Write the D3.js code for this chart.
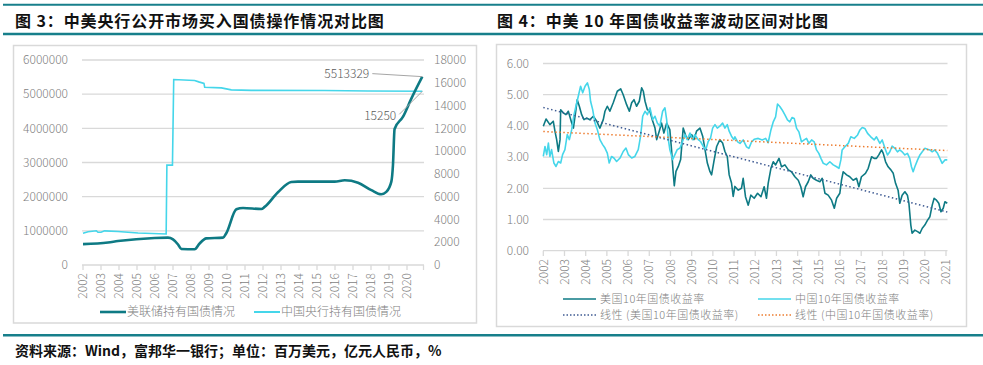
<!DOCTYPE html>
<html>
<head>
<meta charset="utf-8">
<script src="https://cdn.jsdelivr.net/npm/d3@7"></script>
<style>
  body { margin: 0; background: #fff; }
  svg { display: block; }
  text { font-family: "Noto Sans CJK SC", "Noto Sans", sans-serif; }
</style>
</head>
<body>
<script>
// ---- 图3 数据 ----
var fedYears = [2002.00, 2003.39, 2003.94, 2005.98, 2006.72, 2007.00, 2007.28, 2007.46, 2008.20, 2008.48,
                2008.85, 2009.78, 2009.96, 2010.52, 2010.89, 2011.91, 2012.09, 2012.83, 2013.57, 2013.94,
                2015.98, 2016.54, 2017.28, 2018.02, 2018.57, 2018.85, 2019.13, 2019.22, 2019.31, 2019.78,
                2020.24, 2020.85];
var fedValues = [610000, 660000, 700000, 790000, 800000, 750000, 600000, 470000, 460000, 630000,
                 780000, 800000, 930000, 1630000, 1670000, 1640000, 1700000, 2130000, 2430000, 2440000,
                 2440000, 2480000, 2410000, 2190000, 2070000, 2140000, 2440000, 2920000, 3980000, 4340000,
                 4870000, 5513329];
var pbocYears = [2002.00, 2002.28, 2002.74, 2002.83, 2003.00, 2003.20, 2003.94, 2005.06, 2006.62, 2006.66,
                 2006.97, 2007.04, 2008.20, 2008.43, 2008.72, 2008.76, 2009.69, 2010.24, 2011.35, 2015.43,
                 2017.83, 2020.85];
var pbocValues = [2780, 2920, 3010, 2870, 2870, 3000, 2940, 2810, 2720, 8770,
                  8770, 16290, 16200, 16080, 15940, 15610, 15550, 15380, 15330, 15320,
                  15280, 15250];
var leftTicks = [0, 1000000, 2000000, 3000000, 4000000, 5000000, 6000000];
var rightTicks = [0, 2000, 4000, 6000, 8000, 10000, 12000, 14000, 16000, 18000];
var yearLabels3 = d3.range(2002, 2021);

// ---- 图4 数据 ----
var usYears = [2002.00, 2002.13, 2002.31, 2002.47, 2002.55, 2002.63, 2002.71, 2002.79, 2002.82, 2002.94,
  2003.07, 2003.18, 2003.34, 2003.42, 2003.54, 2003.60, 2003.70, 2003.81, 2003.92, 2004.04,
  2004.20, 2004.36, 2004.52, 2004.67, 2004.83, 2004.91, 2005.02, 2005.14, 2005.30, 2005.49,
  2005.65, 2005.77, 2005.93, 2006.06, 2006.17, 2006.28, 2006.40, 2006.53, 2006.64, 2006.72,
  2006.80, 2006.91, 2007.03, 2007.14, 2007.27, 2007.35, 2007.47, 2007.58, 2007.69, 2007.82,
  2007.97, 2008.05, 2008.13, 2008.18, 2008.26, 2008.37, 2008.48, 2008.60, 2008.73, 2008.84,
  2009.00, 2009.11, 2009.23, 2009.39, 2009.52, 2009.63, 2009.74, 2009.86, 2009.94, 2010.05,
  2010.18, 2010.33, 2010.46, 2010.57, 2010.68, 2010.77, 2010.88, 2010.96, 2011.04, 2011.20,
  2011.35, 2011.43, 2011.54, 2011.67, 2011.79, 2011.95, 2012.11, 2012.27, 2012.42, 2012.53,
  2012.61, 2012.74, 2012.85, 2012.96, 2013.12, 2013.24, 2013.40, 2013.56, 2013.71, 2013.87,
  2014.03, 2014.15, 2014.26, 2014.37, 2014.50, 2014.62, 2014.73, 2014.89, 2015.05, 2015.16,
  2015.29, 2015.44, 2015.60, 2015.73, 2015.84, 2015.99, 2016.07, 2016.15, 2016.31, 2016.46,
  2016.62, 2016.78, 2016.89, 2017.01, 2017.20, 2017.33, 2017.49, 2017.61, 2017.72, 2017.83,
  2017.96, 2018.04, 2018.15, 2018.27, 2018.40, 2018.51, 2018.62, 2018.74, 2018.82, 2018.93,
  2019.06, 2019.18, 2019.25, 2019.34, 2019.40, 2019.53, 2019.66, 2019.77, 2019.88, 2020.00,
  2020.13, 2020.24, 2020.35, 2020.44, 2020.55, 2020.66, 2020.76, 2020.87, 2020.95, 2021.06];
var usValues = [3.99, 4.22, 4.04, 4.15, 3.83, 3.56, 3.18, 3.56, 4.52, 4.42,
  4.36, 4.47, 4.09, 3.93, 4.52, 4.84, 4.63, 4.36, 4.20, 4.25,
  4.20, 4.31, 4.15, 3.93, 4.20, 4.47, 4.63, 4.47, 4.74, 5.11,
  5.19, 5.00, 4.68, 4.47, 4.74, 4.84, 4.63, 4.79, 5.22, 5.11,
  4.79, 4.52, 4.47, 4.20, 3.93, 3.56, 3.83, 4.09, 3.77, 4.09,
  3.88, 3.24, 2.49, 2.08, 2.54, 2.70, 2.92, 3.93, 3.67, 3.56,
  3.72, 3.56, 3.83, 3.93, 3.67, 3.24, 2.81, 2.54, 2.43, 2.86,
  3.34, 3.56, 3.45, 3.18, 3.02, 2.43, 2.17, 1.74, 2.06, 1.94,
  2.00, 2.32, 1.73, 1.46, 1.78, 1.68, 1.84, 1.73, 2.05, 1.68,
  2.16, 2.64, 2.85, 2.75, 2.96, 2.69, 2.75, 2.59, 2.53, 2.37,
  2.26, 2.05, 1.73, 2.05, 2.21, 2.43, 2.32, 2.26, 2.21, 2.32,
  1.84, 1.78, 1.62, 1.36, 1.68, 1.84, 2.26, 2.53, 2.43, 2.37,
  2.26, 2.32, 2.05, 2.37, 2.48, 2.64, 3.01, 2.96, 2.96, 3.07,
  3.23, 3.12, 2.85, 2.69, 2.59, 2.48, 2.16, 1.94, 1.52, 1.78,
  1.89, 1.78, 1.52, 0.82, 0.56, 0.66, 0.61, 0.56, 0.72, 0.82,
  0.98, 1.09, 1.46, 1.68, 1.62, 1.52, 1.25, 1.36, 1.57, 1.52];
var cnYears = [2002.00, 2002.08, 2002.16, 2002.24, 2002.31, 2002.39, 2002.50, 2002.60, 2002.71, 2002.82,
  2002.91, 2003.02, 2003.13, 2003.23, 2003.34, 2003.45, 2003.54, 2003.65, 2003.76, 2003.86,
  2003.97, 2004.08, 2004.17, 2004.23, 2004.33, 2004.44, 2004.55, 2004.67, 2004.80, 2004.91,
  2005.02, 2005.11, 2005.22, 2005.33, 2005.46, 2005.62, 2005.77, 2005.90, 2006.01, 2006.17,
  2006.32, 2006.48, 2006.59, 2006.69, 2006.80, 2006.91, 2007.03, 2007.16, 2007.27, 2007.38,
  2007.50, 2007.63, 2007.74, 2007.82, 2007.90, 2007.97, 2008.10, 2008.21, 2008.32, 2008.45,
  2008.57, 2008.68, 2008.79, 2008.92, 2009.04, 2009.15, 2009.31, 2009.42, 2009.55, 2009.67,
  2009.78, 2009.89, 2009.99, 2010.10, 2010.21, 2010.33, 2010.46, 2010.57, 2010.68, 2010.77,
  2010.88, 2010.99, 2011.04, 2011.17, 2011.28, 2011.43, 2011.59, 2011.70, 2011.83, 2011.95,
  2012.14, 2012.33, 2012.49, 2012.61, 2012.74, 2012.85, 2012.96, 2013.05, 2013.16, 2013.27,
  2013.40, 2013.52, 2013.63, 2013.74, 2013.84, 2013.95, 2014.06, 2014.18, 2014.31, 2014.42,
  2014.53, 2014.66, 2014.78, 2014.89, 2015.00, 2015.10, 2015.21, 2015.36, 2015.52, 2015.68,
  2015.84, 2015.95, 2016.04, 2016.10, 2016.23, 2016.39, 2016.51, 2016.67, 2016.83, 2016.94,
  2017.05, 2017.17, 2017.30, 2017.45, 2017.61, 2017.72, 2017.88, 2017.99, 2018.12, 2018.24,
  2018.35, 2018.46, 2018.59, 2018.71, 2018.82, 2018.93, 2019.06, 2019.18, 2019.29, 2019.37,
  2019.45, 2019.53, 2019.66, 2019.77, 2019.88, 2020.00, 2020.13, 2020.24, 2020.35, 2020.47,
  2020.60, 2020.71, 2020.82, 2020.95, 2021.06];
var cnValues = [3.02, 3.34, 3.08, 3.45, 3.02, 3.24, 2.81, 2.70, 2.86, 2.81,
  3.08, 3.24, 3.72, 3.56, 3.88, 4.36, 4.63, 4.95, 5.27, 5.06,
  5.27, 5.38, 5.17, 4.79, 4.52, 4.09, 3.88, 3.56, 3.40, 3.29,
  3.13, 2.81, 3.02, 2.97, 2.86, 2.97, 3.18, 3.29, 3.08, 2.97,
  3.02, 3.24, 3.67, 4.31, 4.47, 4.36, 4.58, 4.20, 4.31, 4.09,
  3.99, 4.47, 4.58, 4.20, 3.56, 3.24, 2.92, 3.08, 3.24, 3.29,
  3.50, 3.72, 3.56, 3.77, 3.56, 3.72, 3.56, 3.50, 3.34, 3.24,
  3.50, 3.61, 3.93, 4.04, 3.93, 3.99, 4.09, 3.93, 4.04, 3.83,
  3.67, 3.56, 3.65, 3.49, 3.44, 3.55, 3.33, 3.28, 3.49, 3.57,
  3.60, 3.55, 3.60, 3.46, 3.87, 4.13, 4.29, 4.70, 4.62, 4.51,
  4.35, 4.19, 4.13, 4.27, 4.24, 3.92, 3.81, 3.49, 3.55, 3.60,
  3.44, 3.55, 3.49, 3.23, 3.12, 2.96, 2.80, 2.75, 2.85, 2.75,
  2.69, 2.64, 2.91, 3.23, 3.33, 3.44, 3.65, 3.60, 3.71, 3.87,
  3.95, 3.92, 3.76, 3.65, 3.55, 3.65, 3.44, 3.55, 3.28, 3.07,
  3.17, 3.35, 3.28, 3.17, 3.23, 3.17, 3.07, 3.12, 2.96, 2.69,
  2.53, 2.69, 2.91, 3.07, 3.17, 3.28, 3.25, 3.23, 3.17, 3.23,
  3.12, 2.96, 2.80, 2.91, 2.91];
// 线性趋势线（读图端点）
var trendYears = [2002, 2021.06];
var usTrend = [4.59, 1.24];
var cnTrend = [3.82, 3.21];
var yieldTicks = [0, 1, 2, 3, 4, 5, 6];
var yearLabels4 = d3.range(2002, 2022);

var teal = "#0e7a84", cyan = "#45d6ea", gridC = "#d9d9d9", labelC = "#7f7f7f";

var svg = d3.select("body").append("svg").attr("width", 983).attr("height", 365);

// 标题栏与分隔线
svg.append("line").attr("x1", 3).attr("x2", 983).attr("y1", 4.8).attr("y2", 4.8)
   .attr("stroke", "#177f8b").attr("stroke-width", 2);
svg.append("line").attr("x1", 3).attr("x2", 983).attr("y1", 34).attr("y2", 34)
   .attr("stroke", "#177f8b").attr("stroke-width", 2.5);
svg.append("line").attr("x1", 3).attr("x2", 983).attr("y1", 335.2).attr("y2", 335.2)
   .attr("stroke", "#177f8b").attr("stroke-width", 2.5);
svg.append("text").attr("x", 15).attr("y", 27).text("图 3：中美央行公开市场买入国债操作情况对比图")
   .attr("font-size", "16px").attr("font-weight", "bold").attr("letter-spacing", "0.9px").attr("fill", "#111");
svg.append("text").attr("x", 497).attr("y", 27).text("图 4：中美 10 年国债收益率波动区间对比图")
   .attr("font-size", "16px").attr("font-weight", "bold").attr("letter-spacing", "0.9px").attr("fill", "#111");
svg.append("text").attr("x", 15).attr("y", 356).text("资料来源：Wind，富邦华一银行；单位：百万美元，亿元人民币，%")
   .attr("font-size", "14px").attr("font-weight", "bold").attr("fill", "#111");

// 图框
svg.append("rect").attr("x", 13.5).attr("y", 45.5).attr("width", 463).attr("height", 277.5)
   .attr("fill", "none").attr("stroke", gridC).attr("stroke-width", 1.5);
svg.append("rect").attr("x", 496.5).attr("y", 44.5).attr("width", 470).attr("height", 282)
   .attr("fill", "none").attr("stroke", gridC).attr("stroke-width", 1.5);

// ================= 图3 =================
var x3 = d3.scaleLinear().domain([2002, 2021]).range([83, 425]);
var yL = d3.scaleLinear().domain([0, 6000000]).range([265, 60]);
var yR = d3.scaleLinear().domain([0, 18000]).range([265, 60]);
var g3 = svg.append("g");

g3.selectAll("line.grid").data(leftTicks.slice(1)).enter().append("line")
  .attr("x1", 82).attr("x2", 424).attr("y1", function(d) { return yL(d); }).attr("y2", function(d) { return yL(d); })
  .attr("stroke", gridC).attr("stroke-width", 1.3);
g3.append("line").attr("x1", 82).attr("x2", 424).attr("y1", yL(0)).attr("y2", yL(0))
  .attr("stroke", gridC).attr("stroke-width", 1.3);
g3.selectAll("line.tick").data(yearLabels3.concat([2021])).enter().append("line")
  .attr("x1", function(d) { return Math.min(x3(d), 423.5); }).attr("x2", function(d) { return Math.min(x3(d), 423.5); })
  .attr("y1", 265).attr("y2", 270).attr("stroke", gridC).attr("stroke-width", 1.3);

g3.selectAll("text.yl").data(leftTicks).enter().append("text")
  .attr("x", 68).attr("y", function(d) { return yL(d); }).attr("dy", "0.35em")
  .attr("text-anchor", "end").attr("font-size", "12px").attr("font-weight", 300).attr("fill", labelC)
  .text(function(d) { return d; });
g3.selectAll("text.yr").data(rightTicks).enter().append("text")
  .attr("x", 434).attr("y", function(d) { return yR(d); }).attr("dy", "0.35em")
  .attr("text-anchor", "start").attr("font-size", "12px").attr("font-weight", 300).attr("fill", labelC)
  .text(function(d) { return d; });
g3.selectAll("text.xl").data(yearLabels3).enter().append("text")
  .attr("transform", function(d) { return "translate(" + x3(d) + ",273) rotate(-90)"; })
  .attr("dy", "0.35em").attr("text-anchor", "end").attr("font-size", "12px").attr("font-weight", 300)
  .attr("fill", labelC).text(function(d) { return d; });

var pbocLine = d3.line().x(function(d) { return x3(d[0]); }).y(function(d) { return yR(d[1]); });
var fedLine = d3.line().x(function(d) { return x3(d[0]); }).y(function(d) { return yL(d[1]); })
  .curve(d3.curveMonotoneX);
g3.append("path").datum(d3.zip(pbocYears, pbocValues)).attr("d", pbocLine)
  .attr("fill", "none").attr("stroke", cyan).attr("stroke-width", 1.6);
g3.append("path").datum(d3.zip(fedYears, fedValues)).attr("d", fedLine)
  .attr("fill", "none").attr("stroke", teal).attr("stroke-width", 2.6);

// 数据标签
var fedEnd = [x3(fedYears[fedYears.length - 1]), yL(fedValues[fedValues.length - 1])];
var pbocEnd = [x3(pbocYears[pbocYears.length - 1]), yR(pbocValues[pbocValues.length - 1])];
g3.append("line").attr("x1", fedEnd[0] - 50).attr("y1", fedEnd[1] - 3).attr("x2", fedEnd[0]).attr("y2", fedEnd[1])
  .attr("stroke", "#a6a6a6").attr("stroke-width", 1);
g3.append("text").attr("x", fedEnd[0] - 53).attr("y", fedEnd[1] - 3).attr("dy", "0.35em")
  .attr("text-anchor", "end").attr("font-size", "12px").attr("font-weight", 300).attr("fill", "#595959")
  .text(fedValues[fedValues.length - 1]);
g3.append("line").attr("x1", pbocEnd[0] - 23).attr("y1", pbocEnd[1] + 23).attr("x2", pbocEnd[0]).attr("y2", pbocEnd[1])
  .attr("stroke", "#a6a6a6").attr("stroke-width", 1);
g3.append("text").attr("x", pbocEnd[0] - 26).attr("y", pbocEnd[1] + 24).attr("dy", "0.35em")
  .attr("text-anchor", "end").attr("font-size", "12px").attr("font-weight", 300).attr("fill", "#595959")
  .text(pbocValues[pbocValues.length - 1]);

// 图例
var leg3 = [{ name: "美联储持有国债情况", c: teal, w: 2.6, x: 100 }, { name: "中国央行持有国债情况", c: cyan, w: 2, x: 254 }];
leg3.forEach(function(l) {
  g3.append("line").attr("x1", l.x).attr("x2", l.x + 26).attr("y1", 312).attr("y2", 312)
    .attr("stroke", l.c).attr("stroke-width", l.w);
  g3.append("text").attr("x", l.x + 27).attr("y", 312).attr("dy", "0.35em").attr("font-size", "12px")
    .attr("font-weight", 300).attr("fill", labelC).text(l.name);
});

// ================= 图4 =================
var x4 = d3.scaleLinear().domain([2002, 2021]).range([543.3, 946]);
var y4 = d3.scaleLinear().domain([0, 6]).range([250.7, 63.5]);
var g4 = svg.append("g");

g4.selectAll("line.grid").data(yieldTicks.slice(1)).enter().append("line")
  .attr("x1", 543).attr("x2", 947.5).attr("y1", function(d) { return y4(d); }).attr("y2", function(d) { return y4(d); })
  .attr("stroke", gridC).attr("stroke-width", 1.3);
g4.append("line").attr("x1", 543).attr("x2", 947.5).attr("y1", y4(0)).attr("y2", y4(0))
  .attr("stroke", gridC).attr("stroke-width", 1.3);
g4.selectAll("line.tick").data(yearLabels4).enter().append("line")
  .attr("x1", function(d) { return x4(d); }).attr("x2", function(d) { return x4(d); })
  .attr("y1", 250.7).attr("y2", 256).attr("stroke", gridC).attr("stroke-width", 1.3);
g4.selectAll("text.yl").data(yieldTicks).enter().append("text")
  .attr("x", 529).attr("y", function(d) { return y4(d); }).attr("dy", "0.35em")
  .attr("text-anchor", "end").attr("font-size", "12px").attr("font-weight", 300).attr("fill", labelC)
  .text(function(d) { return d3.format(".2f")(d); });
g4.selectAll("text.xl").data(yearLabels4).enter().append("text")
  .attr("transform", function(d) { return "translate(" + x4(d) + ",259) rotate(-90)"; })
  .attr("dy", "0.35em").attr("text-anchor", "end").attr("font-size", "12px").attr("font-weight", 300)
  .attr("fill", labelC).text(function(d) { return d; });

var yLine = d3.line().x(function(d) { return x4(d[0]); }).y(function(d) { return y4(d[1]); });
g4.append("path").datum(d3.zip(usYears, usValues)).attr("d", yLine)
  .attr("fill", "none").attr("stroke", teal).attr("stroke-width", 1.6).attr("stroke-linejoin", "round");
g4.append("path").datum(d3.zip(cnYears, cnValues)).attr("d", yLine)
  .attr("fill", "none").attr("stroke", cyan).attr("stroke-width", 1.6).attr("stroke-linejoin", "round");
g4.append("path").datum(d3.zip(trendYears, usTrend)).attr("d", yLine)
  .attr("fill", "none").attr("stroke", "#3f5b93").attr("stroke-width", 1.5).attr("stroke-dasharray", "1.5,2.5");
g4.append("path").datum(d3.zip(trendYears, cnTrend)).attr("d", yLine)
  .attr("fill", "none").attr("stroke", "#ed7d31").attr("stroke-width", 1.5).attr("stroke-dasharray", "1.5,2.5");

// 图例（两行，字号略小以免重叠）
var leg4 = [
  { name: "美国10年国债收益率", c: teal, dash: null, x: 563, y: 299 },
  { name: "中国10年国债收益率", c: cyan, dash: null, x: 758, y: 299 },
  { name: "线性 (美国10年国债收益率)", c: "#3f5b93", dash: "1.5,2", x: 563, y: 315 },
  { name: "线性 (中国10年国债收益率)", c: "#ed7d31", dash: "1.5,2", x: 758, y: 315 }
];
leg4.forEach(function(l) {
  g4.append("line").attr("x1", l.x).attr("x2", l.x + 33).attr("y1", l.y).attr("y2", l.y)
    .attr("stroke", l.c).attr("stroke-width", 1.5).attr("stroke-dasharray", l.dash);
  g4.append("text").attr("x", l.x + 37).attr("y", l.y).attr("dy", "0.35em").attr("font-size", "11px")
    .attr("letter-spacing", "0.5px").attr("font-weight", 300).attr("fill", labelC).text(l.name);
});
</script>
</body>
</html>
